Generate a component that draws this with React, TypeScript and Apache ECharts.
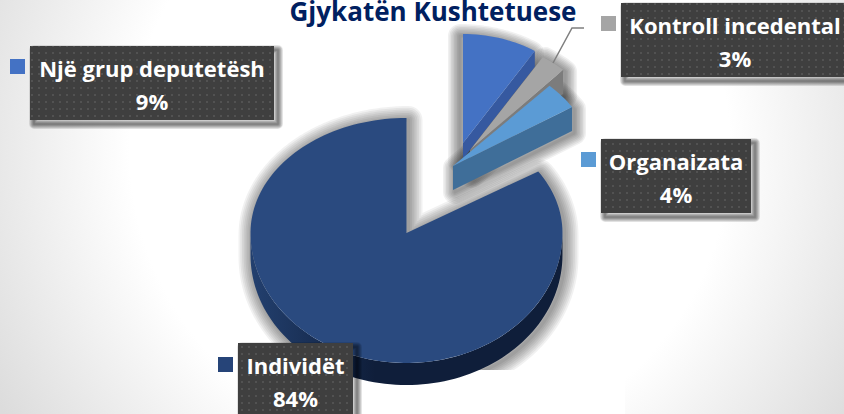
import React, { useEffect, useRef } from "react";
import * as echarts from "echarts";

const titleText = "Gjykatën Kushtetuese";
const categories = ["Një grup deputetësh", "Kontroll incedental", "Organaizata", "Individët"];
const sharePercents = [9, 3, 4, 84];
const topColors = ["#4472C4", "#A5A5A5", "#5B9BD5", "#2A4A7F"];
const wallColors = ["#3659A0", "#7C7C7C", "#3F6E99", "#0F1E3A"];
const markerColors = ["#4472C4", "#A5A5A5", "#5B9BD5", "#264478"];

type Geo = { cx: number; cy: number; rx: number; ryUp: number; ryDown: number; depth: number };
const sliceGeometry: Geo[] = [
  { cx: 463, cy: 143, rx: 134, ryUp: 109, ryDown: 109, depth: 16 },
  { cx: 470, cy: 150, rx: 136, ryUp: 110, ryDown: 110, depth: 24 },
  { cx: 453, cy: 166, rx: 141, ryUp: 110, ryDown: 110, depth: 24 },
  { cx: 406.5, cy: 233, rx: 156, ryUp: 115, ryDown: 130, depth: 22 },
];
const labelBoxes = [
  { x: 30, y: 46, w: 244, h: 74, mx: 10, my: 59 },
  { x: 621, y: 3, w: 226, h: 74, mx: 601, my: 16 },
  { x: 601, y: 139, w: 150, h: 74, mx: 581, my: 152 },
  { x: 238, y: 343, w: 115, h: 74, mx: 218, my: 357 },
];
const leaderLine = [[553, 63], [572, 28], [584, 28]];

const rad = (d: number) => (d * Math.PI) / 180;
function pt(g: Geo, deg: number, dy = 0): number[] {
  const c = Math.cos(rad(deg));
  return [g.cx + g.rx * Math.sin(rad(deg)), g.cy - c * (c > 0 ? g.ryUp : g.ryDown) + dy];
}
function arc(g: Geo, a: number, b: number, dy = 0): number[][] {
  const out: number[][] = [];
  const n = Math.max(2, Math.ceil(Math.abs(b - a) / 2));
  for (let i = 0; i <= n; i++) out.push(pt(g, a + ((b - a) * i) / n, dy));
  return out;
}

// Soft shadow from stacked translucent outlines around a shape's points.
function softShadow(points: number[][], dx: number, dy: number, extent: number, alpha: number, z2: number) {
  const layers = 8;
  const pts = points.map(([x, y]) => [x + dx, y + dy]);
  const out: any[] = [];
  for (let k = layers; k >= 1; k--) {
    out.push({
      type: "polygon",
      z2,
      silent: true,
      shape: { points: pts },
      style: {
        fill: "rgba(0,0,0,0)",
        stroke: `rgba(0,0,0,${alpha})`,
        lineWidth: (2 * extent * k) / layers,
        lineJoin: "round",
      },
    });
  }
  return out;
}

function dotCanvas() {
  const c = document.createElement("canvas");
  c.width = 7;
  c.height = 7;
  const x = c.getContext("2d")!;
  x.fillStyle = "#3F3F3F";
  x.fillRect(0, 0, 7, 7);
  x.fillStyle = "rgba(255,255,255,0.10)";
  x.fillRect(3, 3, 2, 2);
  return c;
}

export default function App() {
  const ref = useRef<HTMLDivElement>(null);
  useEffect(() => {
    document.body.style.margin = "0";
    const chart = echarts.init(ref.current!, null, { renderer: "svg" });
    const pattern = dotCanvas();
    const total = sharePercents.reduce((a, b) => a + b, 0);
    const renderItem = (params: any, api: any) => {
      const i = params.dataIndex;
      const value = api.value(0);
      let before = 0;
      for (let k = 0; k < i; k++) before += sharePercents[k];
      const start = (before / total) * 360;
      const end = start + (value / total) * 360;
      const g = sliceGeometry[i];
      const big = i === 3;
      const children: any[] = [];
      const base = 10 + i * 4;
      if (big) {
        const outline = [[g.cx, g.cy], ...arc(g, start, 90), ...arc(g, 90, 270, g.depth), ...arc(g, 270, end)];
        children.push(...softShadow(outline, 2, 2, 14, 0.055, 1));
        // the reference's shadow stops short under the pie on the right
        children.push({ type: "rect", z2: 2, shape: { x: 345, y: 370, width: 280, height: 44 }, style: { fill: "#fff" } });
        children.push({
          type: "polygon", z2: 3,
          shape: { points: [...arc(g, 90, 270), ...arc(g, 270, 90, g.depth)] },
          style: {
            fill: {
              type: "linear", x: 1, y: 0, x2: 0, y2: 0,
              colorStops: [
                { offset: 0, color: wallColors[i] },
                { offset: 0.6, color: "#0F1E3A" },
                { offset: 1, color: "#23406F" },
              ],
            },
          },
        });
        children.push({
          type: "polygon", z2: 4,
          shape: { points: [[g.cx, g.cy], ...arc(g, start, end)] },
          style: { fill: topColors[i] },
        });
      } else {
        const e = pt(g, end);
        const outline = [[g.cx, g.cy], ...arc(g, start, end), pt(g, end, g.depth), [g.cx, g.cy + g.depth]];
        children.push(...softShadow(outline, i === 0 ? -3 : 2, 2, 12, 0.06, 5));
        children.push({
          type: "polygon", z2: base,
          shape: { points: [[g.cx, g.cy], e, pt(g, end, g.depth), [g.cx, g.cy + g.depth]] },
          style: { fill: wallColors[i] },
        });
        children.push({
          type: "polygon", z2: base + 1,
          shape: { points: [[g.cx, g.cy], ...arc(g, start, end)] },
          style: { fill: topColors[i] },
        });
      }
      if (i === 1) {
        children.push({
          type: "polyline", z2: 30,
          shape: { points: leaderLine },
          style: { stroke: "#7F7F7F", lineWidth: 1.5, fill: "none" },
        });
      }
      const b = labelBoxes[i];
      const corners = [[b.x, b.y], [b.x + b.w, b.y], [b.x + b.w, b.y + b.h], [b.x, b.y + b.h]];
      children.push(...softShadow(corners, 4, 4, 5, 0.08, 38));
      children.push({
        type: "rect", z2: 40,
        shape: { x: b.x, y: b.y, width: b.w, height: b.h },
        style: { fill: "#3F3F3F" },
      });
      children.push({
        type: "rect", z2: 41,
        shape: { x: b.x, y: b.y, width: b.w, height: b.h },
        style: { fill: { image: pattern, repeat: "repeat" } },
      });
      children.push({
        type: "rect", z2: 41,
        shape: { x: b.mx, y: b.my, width: 15, height: 15 },
        style: { fill: markerColors[i] },
      });
      const cx = i === 1 ? 735 : b.x + b.w / 2;
      children.push({
        type: "text", z2: 42,
        style: { x: cx, y: b.y + 22, text: categories[i], fill: "#fff", font: 'bold 22px "Open Sans"', align: "center", verticalAlign: "middle" },
      });
      children.push({
        type: "text", z2: 42,
        style: { x: cx, y: b.y + 55, text: `${value}%`, fill: "#fff", font: 'bold 22px "Open Sans"', align: "center", verticalAlign: "middle" },
      });
      return { type: "group", children };
    };
    chart.setOption({
      animation: false,
      backgroundColor: "transparent",
      title: {
        text: titleText,
        left: 428,
        top: -7,
        textAlign: "center",
        textStyle: { color: "#002060", fontFamily: "Open Sans", fontWeight: "bold", fontSize: 26 },
      },
      series: [
        {
          type: "custom",
          coordinateSystem: "none",
          silent: true,
          renderItem,
          data: sharePercents.map((v, i) => ({ name: categories[i], value: [v] })),
        },
      ],
    });
    return () => chart.dispose();
  }, []);
  return (
    <div
      ref={ref}
      style={{
        position: "absolute",
        left: 0,
        top: 0,
        width: 844,
        height: 414,
        overflow: "hidden",
        background: "radial-gradient(circle at 430px 150px, #ffffff 0px, #ffffff 300px, #dcdcdc 500px)",
      }}
    />
  );
}
